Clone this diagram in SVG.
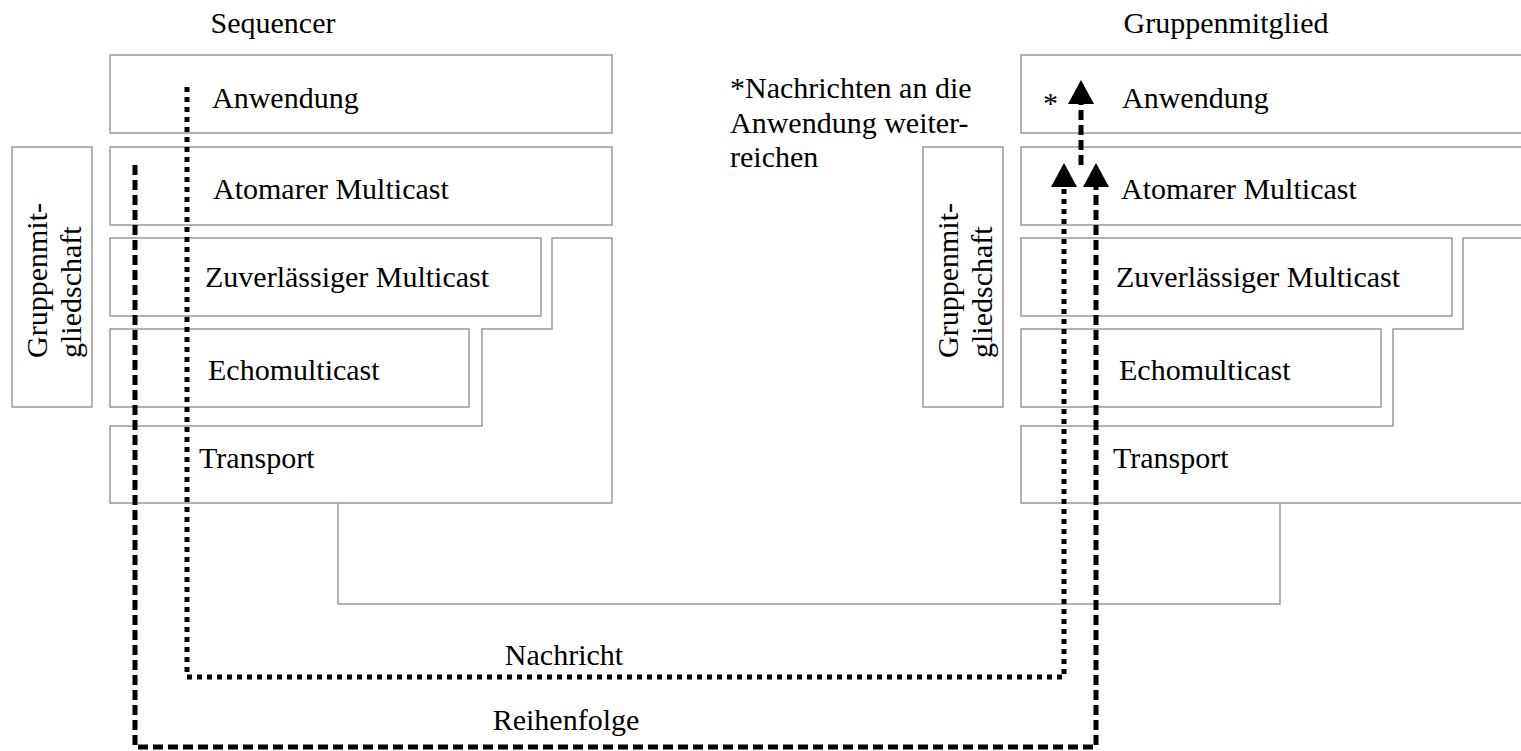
<svg xmlns="http://www.w3.org/2000/svg" width="1521" height="751" viewBox="0 0 1521 751">
  <style>
    .box { fill: #ffffff; stroke: #999999; stroke-width: 1.5; }
    .lbl { font-family: "Liberation Serif", "Times New Roman", serif; font-size: 30px; fill: #000000; }
    .dot { fill: none; stroke: #000000; stroke-width: 5; stroke-dasharray: 5 5; }
    .dash { fill: none; stroke: #000000; stroke-width: 5; stroke-dasharray: 10 5; }
    .head { fill: #000000; stroke: none; }
  </style>
  <rect width="1521" height="751" fill="#ffffff"/>

  <!-- Column headings -->
  <text class="lbl" x="273" y="33" text-anchor="middle">Sequencer</text>
  <text class="lbl" x="1226" y="33" text-anchor="middle">Gruppenmitglied</text>

  <!-- Sequencer protocol stack -->
  <g id="seq-anwendung">
    <rect class="box" x="110" y="55" width="502" height="78"/>
    <text class="lbl" x="212" y="108">Anwendung</text>
  </g>
  <g id="seq-atomar">
    <rect class="box" x="110" y="147" width="502" height="78"/>
    <text class="lbl" x="213" y="199">Atomarer Multicast</text>
  </g>
  <g id="seq-zuverlaessig">
    <rect class="box" x="110" y="238" width="431" height="78"/>
    <text class="lbl" x="205" y="287">Zuverlässiger Multicast</text>
  </g>
  <g id="seq-echo">
    <rect class="box" x="110" y="329" width="359" height="78"/>
    <text class="lbl" x="208" y="380">Echomulticast</text>
  </g>
  <g id="seq-transport">
    <polygon class="box" points="110,426 482,426 482,329 552,329 552,238 612,238 612,503 110,503"/>
    <text class="lbl" x="199" y="468">Transport</text>
  </g>
  <g id="seq-gruppe">
    <rect class="box" x="12" y="147" width="80" height="260"/>
    <text class="lbl" transform="translate(47,358) rotate(-90)"><tspan x="0" y="0">Gruppenmit-</tspan><tspan x="0" y="34">gliedschaft</tspan></text>
  </g>

  <!-- Group member protocol stack -->
  <g id="mem-anwendung">
    <rect class="box" x="1021" y="55" width="510" height="78"/>
    <text class="lbl" x="1122" y="108">Anwendung</text>
    <text class="lbl" x="1043" y="113">*</text>
  </g>
  <g id="mem-atomar">
    <rect class="box" x="1021" y="147" width="510" height="78"/>
    <text class="lbl" x="1121" y="199">Atomarer Multicast</text>
  </g>
  <g id="mem-zuverlaessig">
    <rect class="box" x="1021" y="238" width="431" height="78"/>
    <text class="lbl" x="1116" y="287">Zuverlässiger Multicast</text>
  </g>
  <g id="mem-echo">
    <rect class="box" x="1021" y="329" width="360" height="78"/>
    <text class="lbl" x="1119" y="380">Echomulticast</text>
  </g>
  <g id="mem-transport">
    <polygon class="box" points="1021,426 1393,426 1393,329 1463,329 1463,238 1531,238 1531,503 1021,503"/>
    <text class="lbl" x="1113" y="468">Transport</text>
  </g>
  <g id="mem-gruppe">
    <rect class="box" x="923" y="147" width="80" height="260"/>
    <text class="lbl" transform="translate(958,358) rotate(-90)"><tspan x="0" y="0">Gruppenmit-</tspan><tspan x="0" y="34">gliedschaft</tspan></text>
  </g>

  <!-- Note -->
  <g id="note">
    <text class="lbl"><tspan x="730" y="98">*Nachrichten an die</tspan><tspan x="730" y="133">Anwendung weiter-</tspan><tspan x="730" y="167">reichen</tspan></text>
  </g>

  <!-- Network linking both transport layers -->
  <g id="network">
    <polyline fill="none" stroke="#999999" stroke-width="1.5" points="338,503 338,604 1280,604 1280,503"/>
  </g>

  <!-- Message flows -->
  <g id="connectors">
    <polyline class="dot" points="187,87 187,677 1064,677 1064,187"/>
    <polygon class="head" points="1064,163 1051,187 1077,187"/>
    <text class="lbl" x="564" y="665" text-anchor="middle">Nachricht</text>

    <polyline class="dash" points="135,165 135,747 1096,747 1096,187"/>
    <polygon class="head" points="1096,163 1083,187 1109,187"/>
    <text class="lbl" x="566" y="730" text-anchor="middle">Reihenfolge</text>

    <polyline class="dash" points="1081,165 1081,104"/>
    <polygon class="head" points="1081,80 1068,104 1094,104"/>
  </g>
</svg>
